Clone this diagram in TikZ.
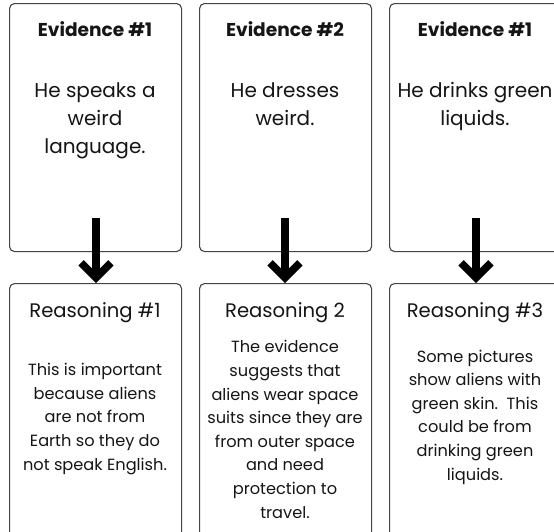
\documentclass[tikz,border=0pt]{standalone}
\usepackage{fontspec}
\setmainfont{Poppins}
\definecolor{boxline}{HTML}{454545}
\definecolor{ink}{HTML}{151515}
\begin{document}
\begin{tikzpicture}[x=1pt,y=-1pt,
  card/.style={draw=boxline, line width=1.1pt, rounded corners=5pt, minimum width=172pt, anchor=north west, inner sep=0pt},
  evid/.style={card, minimum height=248pt},
  reas/.style={card, minimum height=262pt},
  ttl/.style={font=\fontsize{18.6}{22}\selectfont\bfseries, text=ink, anchor=base, inner sep=0pt},
  etxt/.style={font=\fontsize{20}{28}\selectfont, text=ink, align=center, anchor=base, inner sep=0pt},
  rttl/.style={font=\fontsize{19.6}{23}\selectfont, text=ink, anchor=base, inner sep=0pt},
  rtxt/.style={font=\fontsize{16.2}{23.6}\selectfont, text=ink, align=center, anchor=base, inner sep=0pt},
  shaft/.style={line width=7.5pt, shorten >=6pt},
  chev/.style={line width=7.5pt, line join=miter, line cap=butt}
]
\useasboundingbox (0,0) rectangle (554,531);
\fill[white] (0,0) rectangle (554,531);

% evidence boxes
\node[evid] (e1) at (9,3) {};
\node[evid] (e2) at (199,3) {};
\node[evid] (e3) at (389,3) {};
% reasoning boxes
\node[reas] (r1) at (9,283) {};
\node[reas] (r2) at (199,283) {};
\node[reas] (r3) at (389,283) {};

% titles (multi-line nodes: anchor base = last line)
\node[ttl] (t1) at (95,36) {Evidence \#1};
\node[ttl] (t2) at (285,36) {Evidence \#2};
\node[ttl] (t3) at (475,36) {Evidence \#1};
\node[etxt] (b1) at (95,153) {He speaks a\\weird\\language.};
\node[etxt] (b2) at (285,125) {He dresses\\weird.};
\node[etxt] (b3) at (475,125) {He drinks green\\liquids.};

\node[rttl] (u1) at (95,317) {Reasoning \#1};
\node[rttl] (u2) at (285,317) {Reasoning 2};
\node[rttl] (u3) at (475,317) {Reasoning \#3};
\node[rtxt] (c1) at (95,470) {This is important\\because aliens\\are not from\\Earth so they do\\not speak English.};
\node[rtxt] (c2) at (285,518) {The evidence\\suggests that\\aliens wear space\\suits since they are\\from outer space\\and need\\protection to\\travel.};
\node[rtxt] (c3) at (475,480) {Some pictures\\show aliens with\\green skin.\ \ This\\could be from\\drinking green\\liquids.};

% arrows
\coordinate (a1) at (96,218);
\coordinate (a2) at (285,218);
\coordinate (a3) at (476,218);
\coordinate (h1) at (a1 |- r1.north);
\coordinate (h2) at (a2 |- r2.north);
\coordinate (h3) at (a3 |- r3.north);
\foreach \i in {1,2,3}{
  \draw[shaft] (a\i) -- (h\i);
  \draw[chev] ([shift={(-14.9,-20.2)}]h\i) -- ([shift={(0,-5.3)}]h\i) -- ([shift={(14.9,-20.2)}]h\i);
}
\end{tikzpicture}
\end{document}
